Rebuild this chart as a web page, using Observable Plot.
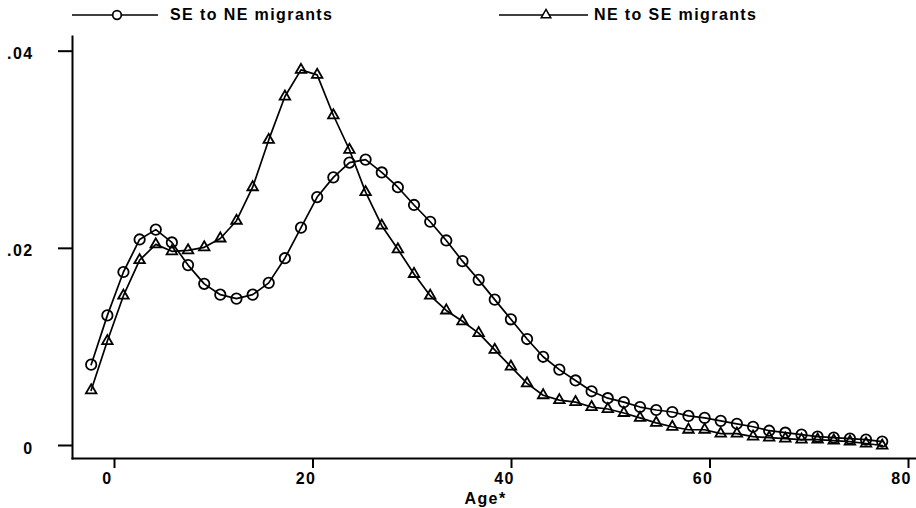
<!DOCTYPE html>
<html>
<head>
<meta charset="utf-8">
<script src="https://cdn.jsdelivr.net/npm/d3@7"></script>
<script src="https://cdn.jsdelivr.net/npm/@observablehq/plot@0.6"></script>
<style>
  html, body { margin: 0; padding: 0; background: #fff; overflow: hidden; }
  #legend svg, #chart svg { display: block; }
  #legend text, #chart svg text { letter-spacing: 1.4px; }
</style>
</head>
<body>
<div id="legend"></div>
<div id="chart"></div>
<script>
// ---- data ----
const ages = [-2.35, -0.72, 0.90, 2.53, 4.16, 5.78, 7.41, 9.04, 10.66, 12.29,
  13.92, 15.54, 17.17, 18.79, 20.42, 22.05, 23.67, 25.30, 26.93, 28.55,
  30.18, 31.81, 33.43, 35.06, 36.69, 38.31, 39.94, 41.57, 43.19, 44.82,
  46.45, 48.07, 49.70, 51.32, 52.95, 54.58, 56.20, 57.83, 59.46, 61.08,
  62.71, 64.34, 65.96, 67.59, 69.22, 70.84, 72.47, 74.10, 75.72, 77.35];

const seToNe = [0.0082, 0.0132, 0.0176, 0.0209, 0.0219, 0.0206, 0.0183, 0.0164, 0.0153, 0.0149,
  0.0153, 0.0165, 0.0190, 0.0221, 0.0252, 0.0272, 0.0287, 0.0290, 0.0277, 0.0262,
  0.0244, 0.0227, 0.0208, 0.0187, 0.0168, 0.0148, 0.0128, 0.0108, 0.0090, 0.0077,
  0.0066, 0.0055, 0.0048, 0.0044, 0.0039, 0.0036, 0.0034, 0.0030, 0.0028, 0.0025,
  0.0022, 0.0019, 0.0015, 0.0013, 0.0011, 0.0009, 0.0008, 0.0007, 0.0006, 0.0004];

const neToSe = [0.0056, 0.0106, 0.0152, 0.0188, 0.0204, 0.0197, 0.0198, 0.0201, 0.0210, 0.0228,
  0.0262, 0.0310, 0.0354, 0.0381, 0.0376, 0.0335, 0.0300, 0.0257, 0.0223, 0.0199,
  0.0174, 0.0152, 0.0137, 0.0126, 0.0114, 0.0097, 0.0080, 0.0063, 0.0051, 0.0046,
  0.0044, 0.0039, 0.0037, 0.0033, 0.0028, 0.0023, 0.0019, 0.0016, 0.0016, 0.0012,
  0.0012, 0.0009, 0.0008, 0.0007, 0.0006, 0.0006, 0.0005, 0.0004, 0.0002, 0.0000];

const seriesNames = ["SE to NE migrants", "NE to SE migrants"];
const xTickValues = [0, 20, 40, 60, 80];
const yTickValues = [0, 0.02, 0.04];
const yTickLabels = ["0", ".02", ".04"];
const xLabel = "Age*";

// ---- build tables ----
const rowsA = ages.map((a, i) => ({age: a, v: seToNe[i], series: seriesNames[0]}));
const rowsB = ages.map((a, i) => ({age: a, v: neToSe[i], series: seriesNames[1]}));

const FONT = "'Liberation Sans', Arial, Helvetica, sans-serif";

// ---- legend (HTML/SVG above the plot) ----
const leg = d3.select("#legend").append("svg").attr("width", 916).attr("height", 28);
const legItems = [
  {name: seriesNames[0], x1: 72, x2: 158, sx: 117, sym: "circle", tx: 170},
  {name: seriesNames[1], x1: 499, x2: 588, sx: 546, sym: "triangle", tx: 594}
];
for (const it of legItems) {
  leg.append("line").attr("x1", it.x1).attr("x2", it.x2).attr("y1", 15).attr("y2", 15)
    .attr("stroke", "black").attr("stroke-width", 1.6);
  if (it.sym === "circle") {
    leg.append("circle").attr("cx", it.sx).attr("cy", 15).attr("r", 4.3)
      .attr("fill", "white").attr("stroke", "black").attr("stroke-width", 1.7);
  } else {
    leg.append("path").attr("transform", `translate(${it.sx},15)`)
      .attr("d", d3.symbol(d3.symbolTriangle, 40)())
      .attr("fill", "white").attr("stroke", "black").attr("stroke-width", 1.5);
  }
  leg.append("text").attr("x", it.tx).attr("y", 20).text(it.name)
    .attr("font-family", FONT).attr("font-size", 16).attr("font-weight", "bold").attr("fill", "black");
}

// ---- plot ----
const chart = Plot.plot({
  width: 916,
  height: 480,
  marginLeft: 72,
  marginRight: 0,
  marginTop: 8,
  marginBottom: 50,
  style: {fontFamily: FONT, fontSize: "16px", fontWeight: "bold", background: "white", color: "black"},
  x: {domain: [-4.232, 80.806], label: null},
  y: {domain: [-0.001319, 0.04149], label: null},
  marks: [
    // axis lines
    Plot.frame({anchor: "left", strokeWidth: 2}),
    Plot.frame({anchor: "bottom", strokeWidth: 2}),
    // y ticks (lines) and labels
    Plot.axisY({ticks: yTickValues, tickSize: 14, strokeWidth: 2, fill: "none", label: null}),
    Plot.axisY({ticks: yTickValues, tickSize: 0, tickPadding: 39, dy: 3,
      tickFormat: d => yTickLabels[yTickValues.indexOf(d)], label: null}),
    // x ticks (lines) and labels
    Plot.axisX({ticks: xTickValues, tickSize: 10, strokeWidth: 2, fill: "none", label: null}),
    Plot.axisX({ticks: xTickValues, tickSize: 0, tickPadding: 14, dx: -7,
      tickFormat: d => String(d), label: null}),
    Plot.text([xLabel], {frameAnchor: "bottom", text: d => d, lineAnchor: "bottom",
      dx: -9, dy: 45, fontSize: 16}),
    // series
    Plot.line(rowsA, {x: "age", y: "v", stroke: "black", strokeWidth: 1.7}),
    Plot.line(rowsB, {x: "age", y: "v", stroke: "black", strokeWidth: 1.7}),
    Plot.dot(rowsA, {x: "age", y: "v", symbol: "circle", r: 5.2, stroke: "black", fill: "none", strokeWidth: 1.8}),
    Plot.dot(rowsB, {x: "age", y: "v", symbol: "triangle", r: 3.9, stroke: "black", fill: "none", strokeWidth: 1.8})
  ]
});
document.getElementById("chart").appendChild(chart);
</script>
</body>
</html>
